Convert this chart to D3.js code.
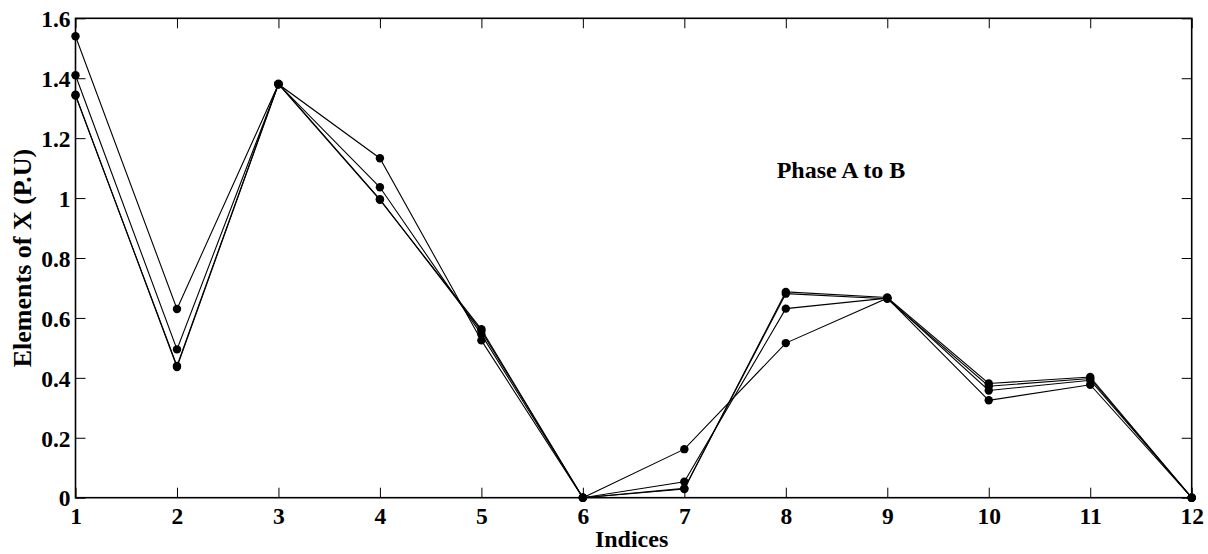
<!DOCTYPE html>
<html>
<head>
<meta charset="utf-8">
<script src="https://cdn.jsdelivr.net/npm/d3@7"></script>
<style>
  html, body { margin: 0; padding: 0; background: #fff; }
  svg { display: block; }
  text { font-family: "Liberation Serif", "Times New Roman", serif; font-weight: bold; fill: #000; }
</style>
</head>
<body>
<svg id="chart" width="1208" height="554"></svg>
<script>
// Index positions along the x axis
const indices = [1, 2, 3, 4, 5, 6, 7, 8, 9, 10, 11, 12];

// Elements of X (per unit) for each run
const seriesA = [1.54, 0.63, 1.38, 1.133, 0.525, 0, 0.162, 0.516, 0.666, 0.325, 0.377, 0];
const seriesB = [1.41, 0.495, 1.38, 1.036, 0.545, 0, 0.053, 0.631, 0.666, 0.358, 0.392, 0];
const seriesC = [1.345, 0.436, 1.38, 0.994, 0.562, 0, 0.029, 0.687, 0.668, 0.381, 0.403, 0];
const seriesD = [1.342, 0.44, 1.382, 0.996, 0.556, 0, 0.031, 0.681, 0.664, 0.372, 0.398, 0];

const allSeries = [seriesA, seriesB, seriesC, seriesD];

const yTicks = [0, 0.2, 0.4, 0.6, 0.8, 1, 1.2, 1.4, 1.6];
const yTickLabels = ["0", "0.2", "0.4", "0.6", "0.8", "1", "1.2", "1.4", "1.6"];

const xTitle = "Indices";
const yTitle = "Elements of X (P.U)";
const annotation = "Phase A to B";

const svg = d3.select("#chart");
const plotLeft = 75.5, plotRight = 1191.7, plotTop = 18.3, plotBottom = 497.7;

const x = d3.scaleLinear().domain([1, 12]).range([plotLeft, plotRight]);
const y = d3.scaleLinear().domain([0, 1.6]).range([plotBottom, plotTop]);

const fontSize = 23.5;

// Axes with inward ticks on all four sides
const gBottom = svg.append("g").attr("transform", `translate(0,${plotBottom})`)
  .call(d3.axisBottom(x).tickValues(indices).tickFormat(d3.format("d")).tickSize(-10).tickPadding(14));
const gTop = svg.append("g").attr("transform", `translate(0,${plotTop})`)
  .call(d3.axisTop(x).tickValues(indices).tickFormat("").tickSize(-10));
const gLeft = svg.append("g").attr("transform", `translate(${plotLeft},0)`)
  .call(d3.axisLeft(y).tickValues(yTicks).tickFormat((d, i) => yTickLabels[i]).tickSize(-10).tickPadding(5));
const gRight = svg.append("g").attr("transform", `translate(${plotRight},0)`)
  .call(d3.axisRight(y).tickValues(yTicks).tickFormat("").tickSize(-10));

[gBottom, gTop, gLeft, gRight].forEach(g => {
  g.select(".domain").remove();
  g.selectAll(".tick line").attr("stroke", "#000").attr("stroke-width", 1);
  g.selectAll("text").attr("font-size", fontSize).attr("font-family", null).attr("fill", "#000");
});
gBottom.selectAll("text").attr("dy", null).attr("y", 26);
gLeft.selectAll("text").attr("dy", "0.35em");

// Frame
svg.append("rect")
  .attr("x", plotLeft).attr("y", plotTop)
  .attr("width", plotRight - plotLeft).attr("height", plotBottom - plotTop)
  .attr("fill", "none").attr("stroke", "#000").attr("stroke-width", 1.6);

// Lines and markers
const line = d3.line().x((d, i) => x(indices[i])).y(d => y(d));
const plot = svg.append("g");
allSeries.forEach(s => {
  plot.append("path").datum(s)
    .attr("d", line)
    .attr("fill", "none").attr("stroke", "#000").attr("stroke-width", 1.1);
});
allSeries.forEach(s => {
  plot.selectAll(null).data(s).enter().append("circle")
    .attr("cx", (d, i) => x(indices[i])).attr("cy", d => y(d))
    .attr("r", 4.2).attr("fill", "#000");
});

// Titles
svg.append("text")
  .attr("x", (plotLeft + plotRight) / 2 - 2).attr("y", 547)
  .attr("text-anchor", "middle").attr("font-size", 24)
  .text(xTitle);

svg.append("text")
  .attr("transform", `translate(31,${(plotTop + plotBottom) / 2}) rotate(-90)`)
  .attr("text-anchor", "middle").attr("font-size", 26)
  .text(yTitle);

svg.append("text")
  .attr("x", 841).attr("y", 178)
  .attr("text-anchor", "middle").attr("font-size", 24)
  .text(annotation);
</script>
</body>
</html>
